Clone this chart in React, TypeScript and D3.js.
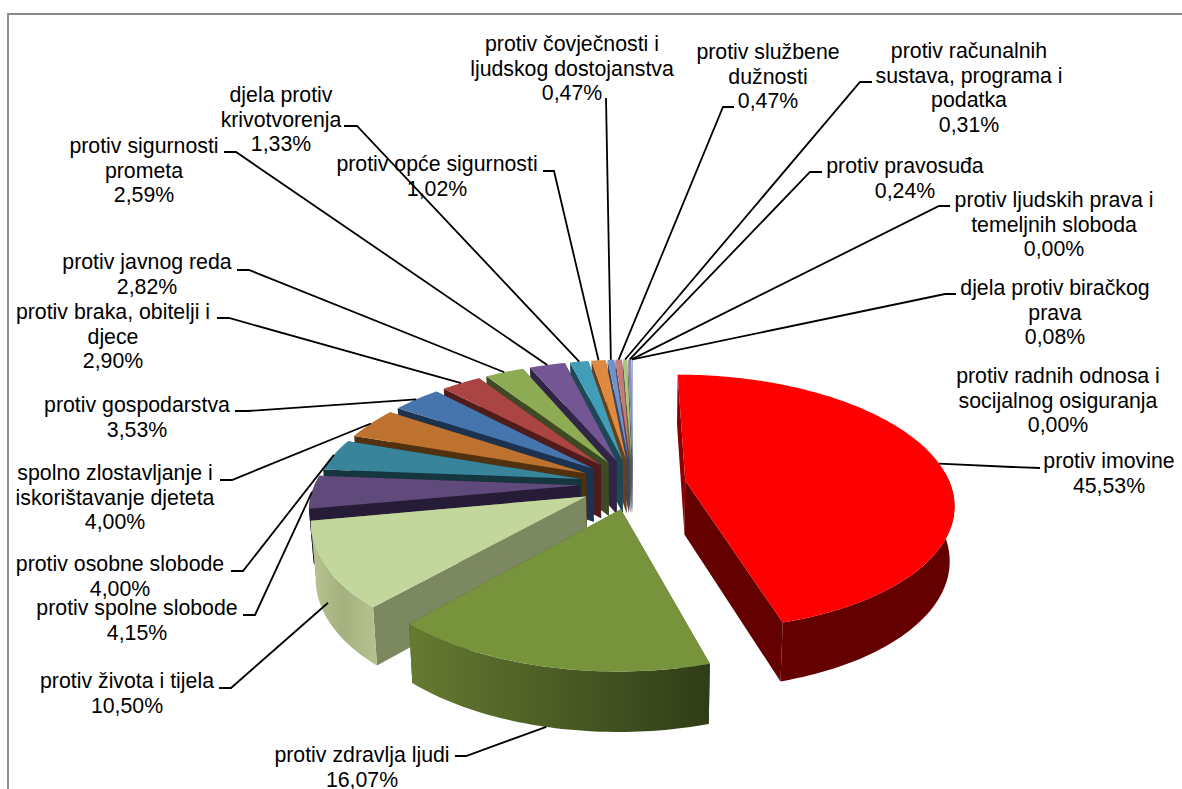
import * as d3 from 'd3'

// shares in percent, clockwise from 12 o'clock
const categories = [
  ['protiv imovine'],
  ['protiv zdravlja ljudi'],
  ['protiv života i tijela'],
  ['protiv spolne slobode'],
  ['protiv osobne slobode'],
  ['spolno zlostavljanje i', 'iskorištavanje djeteta'],
  ['protiv gospodarstva'],
  ['protiv braka, obitelji i', 'djece'],
  ['protiv javnog reda'],
  ['protiv sigurnosti', 'prometa'],
  ['djela protiv', 'krivotvorenja'],
  ['protiv opće sigurnosti'],
  ['protiv čovječnosti i', 'ljudskog dostojanstva'],
  ['protiv službene', 'dužnosti'],
  ['protiv računalnih', 'sustava, programa i', 'podatka'],
  ['protiv pravosuđa'],
  ['protiv ljudskih prava i', 'temeljnih sloboda'],
  ['djela protiv biračkog', 'prava'],
  ['protiv radnih odnosa i', 'socijalnog osiguranja'],
]
const values = [45.53, 16.07, 10.5, 4.15, 4.0, 4.0, 3.53, 2.9, 2.82, 2.59, 1.33, 1.02, 0.47, 0.47, 0.31, 0.24, 0.0, 0.08, 0.0]

const topColors = ['#ff0000', '#77933c', '#c3d69b', '#604a7b', '#37849b', '#bd7230', '#4675ad', '#ab4543', '#8cab52', '#735693', '#429eb8', '#e08a3f', '#7094c9', '#c47a78', '#a8c97a', '#9585b5', '#8db0d8', '#8db0d8', '#8db0d8']
const sideColors = ['#640000', '#4a5c24', '#7c8860', '#271c38', '#16363f', '#52310f', '#1c3350', '#4f1c1b', '#3d4a23', '#312547', '#1d4856', '#6b3f17', '#34496a', '#6a3f3e', '#55693a', '#4a4066', '#4a6a8a', '#4a6a8a', '#4a6a8a']
// wall shading from the slice's start angle to its end angle
const wallStops = [
  ['#640000', '#640000'],
  ['#303c17', '#4a5c24', '#667a31'],
  ['#b4c18f', '#a4b17f', '#b8c592'],
]

// label placement: centre x, first baseline, leader start, elbow, how far down the wall the leader lands
const labelLayout = [
  { x: 1109, y: 468, from: [1040, 468], elbow: [1012, 467], drop: 0 },
  { x: 362, y: 762, from: [455, 756], elbow: [466, 756], drop: 1 },
  { x: 127, y: 688, from: [219, 688], elbow: [231, 688], drop: 0.65 },
  { x: 137, y: 615, from: [243, 615], elbow: [255, 615], drop: 0 },
  { x: 120, y: 571, from: [231, 571], elbow: [243, 571], drop: 0 },
  { x: 115, y: 480, from: [220, 480], elbow: [232, 480], drop: 0 },
  { x: 137, y: 412, from: [235, 411], elbow: [248, 411], drop: 0 },
  { x: 113, y: 319, from: [217, 318], elbow: [229, 318], drop: 0 },
  { x: 147, y: 269, from: [237, 270], elbow: [249, 270], drop: 0 },
  { x: 144, y: 153, from: [224, 152], elbow: [236, 152], drop: 0 },
  { x: 281, y: 102, from: [344, 126], elbow: [357, 126], drop: 0 },
  { x: 437, y: 171, from: [543, 171], elbow: [554, 171], drop: 0 },
  { x: 572, y: 51, from: [606, 98], elbow: [606, 98], drop: 0 },
  { x: 768, y: 59, from: [734, 107], elbow: [723, 107], drop: 0 },
  { x: 969, y: 58, from: [872, 82], elbow: [860, 82], drop: 0 },
  { x: 905, y: 173, from: [822, 172], elbow: [810, 172], drop: 0 },
  { x: 1054, y: 207, from: [950, 206], elbow: [939, 206], drop: 0 },
  { x: 1055, y: 295, from: [956, 294], elbow: [945, 294], drop: 0 },
  { x: 1058, y: 383, from: null, elbow: null, drop: 0 },
]

const width = 1182
const height = 789
const cx = 633
const cy = 484
const radiusX = 265
const radiusY = 125
const perspective = 0.17
const depth = 54
const explode = 0.2
const lineHeight = 24.5

const pie = d3.pie<number>().sort(null).startAngle(0).endAngle(2 * Math.PI)
const arcs = pie(values)

// plane coords: u to the right, v towards the viewer, z 0 on top and 1 at the bottom
function project(u: number, v: number, z = 0): [number, number] {
  const w = 1 / (1 - perspective * v)
  const squeeze = 1 - 0.015 * z
  return [cx + u * radiusX * w * squeeze, cy + v * radiusY * w + z * depth * Math.sqrt(w)]
}

function rimPoint(mid: number, a: number, z = 0) {
  return project(explode * Math.sin(mid) + Math.sin(a), -explode * Math.cos(mid) - Math.cos(a), z)
}

function apexPoint(mid: number, z = 0) {
  return project(explode * Math.sin(mid), -explode * Math.cos(mid), z)
}

const line = d3.line()
const closed = (pts: [number, number][]) => line(pts) + 'Z'

function Slice({ arc, index }: { arc: d3.PieArcDatum<number>; index: number }) {
  const a0 = arc.startAngle
  const a1 = arc.endAngle
  const mid = (a0 + a1) / 2
  const steps = Math.max(2, Math.ceil((a1 - a0) / 0.02))
  const angles = d3.range(steps + 1).map((k) => a0 + ((a1 - a0) * k) / steps)

  // only the part of the rim that faces the viewer gets a wall
  const front = angles.filter((a) => -Math.cos(a) > -0.08)
  const wall = [
    ...front.map((a) => rimPoint(mid, a)),
    ...front
      .slice()
      .reverse()
      .map((a) => rimPoint(mid, a, 1)),
  ] as [number, number][]

  const stops = wallStops[index]
  const gradId = `wall-${index}`

  const top = [apexPoint(mid), ...angles.map((a) => rimPoint(mid, a))] as [number, number][]
  const sideA = [apexPoint(mid), rimPoint(mid, a0), rimPoint(mid, a0, 1), apexPoint(mid, 1)] as [number, number][]
  const sideB = [apexPoint(mid), rimPoint(mid, a1), rimPoint(mid, a1, 1), apexPoint(mid, 1)] as [number, number][]

  return (
    <g>
      {stops && (
        <defs>
          <linearGradient
            id={gradId}
            gradientUnits="userSpaceOnUse"
            x1={rimPoint(mid, a0)[0]}
            y1={0}
            x2={rimPoint(mid, a1)[0]}
            y2={0}
          >
            {stops.map((c, k) => (
              <stop key={k} offset={k / (stops.length - 1)} stopColor={c} />
            ))}
          </linearGradient>
        </defs>
      )}
      <path d={closed(sideA)} fill={index === 0 ? '#8b0000' : sideColors[index]} />
      <path d={closed(sideB)} fill={sideColors[index]} />
      {front.length > 1 && <path d={closed(wall)} fill={stops ? `url(#${gradId})` : sideColors[index]} />}
      <path d={closed(top)} fill={topColors[index]} />
    </g>
  )
}

export default function App() {
  const order = arcs
    .map((arc, index) => ({ arc, index }))
    .filter((d) => d.arc.endAngle > d.arc.startAngle)
    .sort((p, q) => -Math.cos((p.arc.startAngle + p.arc.endAngle) / 2) - -Math.cos((q.arc.startAngle + q.arc.endAngle) / 2))

  return (
    <svg
      width={width}
      height={height}
      style={{ position: 'absolute', left: 0, top: 0, display: 'block', background: '#fff' }}
      fontFamily="'Liberation Sans', Arial, sans-serif"
      fontSize={21.3}
    >
      <path d={`M8,${height}V14H${width}`} fill="none" stroke="#868686" strokeWidth={1.8} />
      {order.map((d) => (
        <Slice key={d.index} arc={d.arc} index={d.index} />
      ))}
      {labelLayout.map((l, i) => {
        if (!l.from) return null
        const mid = (arcs[i].startAngle + arcs[i].endAngle) / 2
        const end = rimPoint(mid, mid, l.drop)
        return (
          <path
            key={i}
            d={line([l.from as [number, number], l.elbow as [number, number], end]) as string}
            fill="none"
            stroke="#000"
            strokeWidth={1.8}
          />
        )
      })}
      {labelLayout.map((l, i) => (
        <text key={i} x={l.x} y={l.y} textAnchor="middle" fill="#000">
          {[...categories[i], values[i].toFixed(2).replace('.', ',') + '%'].map((s, k) => (
            <tspan key={k} x={l.x} y={l.y + k * lineHeight}>
              {s}
            </tspan>
          ))}
        </text>
      ))}
    </svg>
  )
}
